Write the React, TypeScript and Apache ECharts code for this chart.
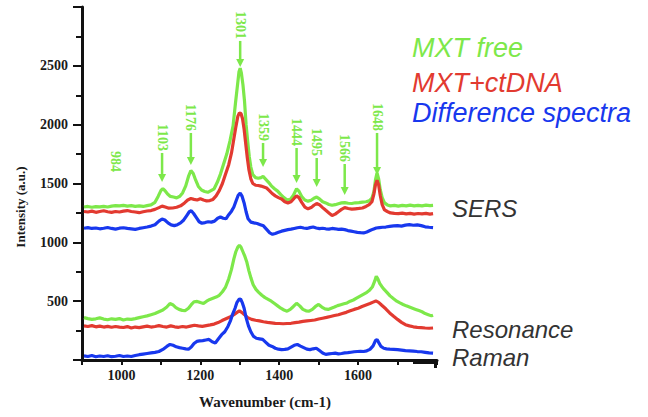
import React, { useEffect, useRef } from "react";
import * as echarts from "echarts";

const GREEN = "#7de84a";
const RED = "#e23a30";
const BLUE = "#1838ee";

// SERS spectra (wavenumber, intensity)
const sersFree: number[][] = [
  [905, 1300], [915, 1305], [925, 1298], [935, 1304], [945, 1302], [955, 1306], [965, 1300], [975, 1308],
  [985, 1312], [995, 1310], [1005, 1314], [1015, 1308], [1025, 1312], [1035, 1306], [1045, 1310], [1055, 1305],
  [1065, 1312], [1075, 1318], [1085, 1340], [1093, 1390], [1100, 1440], [1105, 1455], [1110, 1440], [1117, 1410],
  [1124, 1390], [1132, 1385], [1140, 1378], [1148, 1392], [1155, 1420], [1163, 1480], [1170, 1560], [1176, 1610],
  [1182, 1585], [1188, 1530], [1195, 1475], [1203, 1445], [1211, 1432], [1219, 1425], [1227, 1440], [1235, 1455],
  [1243, 1510], [1251, 1580], [1259, 1665], [1267, 1750], [1275, 1860], [1283, 1990], [1289, 2180], [1294, 2330],
  [1298, 2450], [1301, 2480], [1304, 2440], [1308, 2340], [1312, 2200], [1316, 2000], [1320, 1860], [1324, 1730],
  [1328, 1640], [1333, 1575], [1340, 1550], [1347, 1545], [1354, 1550], [1359, 1560], [1366, 1535], [1373, 1510],
  [1380, 1480], [1388, 1455], [1396, 1435], [1404, 1405], [1412, 1380], [1420, 1360], [1428, 1365], [1436, 1400],
  [1444, 1455], [1450, 1435], [1457, 1390], [1465, 1360], [1473, 1350], [1481, 1358], [1488, 1375], [1495, 1385],
  [1502, 1370], [1510, 1345], [1518, 1335], [1526, 1322], [1534, 1315], [1542, 1320], [1550, 1328], [1558, 1335],
  [1566, 1338], [1575, 1332], [1584, 1330], [1593, 1336], [1602, 1338], [1611, 1342], [1620, 1345], [1628, 1352],
  [1635, 1375], [1640, 1430], [1644, 1530], [1648, 1590], [1652, 1540], [1656, 1450], [1661, 1380], [1667, 1335],
  [1674, 1318], [1682, 1310], [1692, 1314], [1702, 1308], [1712, 1314], [1722, 1310], [1732, 1316], [1742, 1310],
  [1752, 1314], [1762, 1310], [1772, 1316], [1782, 1312], [1790, 1314],
];

const sersDna: number[][] = [
  [905, 1262], [915, 1258], [925, 1265], [935, 1255], [945, 1262], [955, 1268], [965, 1260], [975, 1255],
  [985, 1262], [995, 1258], [1005, 1265], [1015, 1270], [1025, 1262], [1035, 1258], [1045, 1252], [1055, 1260],
  [1065, 1266], [1075, 1270], [1085, 1280], [1095, 1295], [1103, 1308], [1111, 1300], [1120, 1290], [1130, 1292],
  [1140, 1298], [1150, 1310], [1160, 1335], [1168, 1360], [1176, 1372], [1184, 1365], [1192, 1360], [1200, 1370],
  [1208, 1360], [1216, 1352], [1224, 1355], [1232, 1365], [1240, 1395], [1248, 1440], [1256, 1500], [1264, 1580],
  [1272, 1660], [1279, 1760], [1285, 1880], [1290, 1980], [1295, 2070], [1299, 2100], [1303, 2095], [1307, 2050],
  [1311, 1960], [1315, 1840], [1319, 1720], [1323, 1620], [1328, 1540], [1333, 1500], [1340, 1485], [1347, 1483],
  [1354, 1478], [1361, 1470], [1368, 1462], [1375, 1440], [1382, 1415], [1390, 1395], [1398, 1380], [1406, 1368],
  [1414, 1345], [1422, 1335], [1430, 1345], [1438, 1375], [1444, 1395], [1450, 1380], [1457, 1340], [1465, 1300],
  [1473, 1285], [1481, 1295], [1488, 1315], [1495, 1330], [1502, 1320], [1510, 1295], [1518, 1272], [1526, 1250],
  [1534, 1228], [1542, 1240], [1550, 1260], [1558, 1280], [1566, 1295], [1575, 1288], [1584, 1282], [1593, 1285],
  [1602, 1288], [1611, 1292], [1620, 1305], [1628, 1320], [1635, 1345], [1640, 1410], [1644, 1490], [1648, 1528],
  [1652, 1490], [1656, 1400], [1661, 1320], [1667, 1275], [1674, 1262], [1682, 1250], [1692, 1246], [1702, 1244],
  [1712, 1248], [1722, 1242], [1732, 1246], [1742, 1240], [1752, 1245], [1762, 1242], [1772, 1246], [1782, 1240],
  [1790, 1244],
];

const sersDiff: number[][] = [
  [905, 1120], [915, 1125], [925, 1118], [935, 1122], [945, 1115], [955, 1120], [965, 1126], [975, 1118],
  [985, 1112], [995, 1120], [1005, 1124], [1015, 1118], [1025, 1114], [1035, 1110], [1045, 1118], [1055, 1124],
  [1065, 1130], [1075, 1138], [1085, 1150], [1095, 1180], [1103, 1198], [1110, 1190], [1118, 1165], [1126, 1148],
  [1134, 1142], [1142, 1150], [1150, 1165], [1158, 1190], [1166, 1230], [1172, 1260], [1177, 1268], [1183, 1245],
  [1190, 1210], [1197, 1175], [1204, 1162], [1212, 1168], [1220, 1175], [1228, 1172], [1236, 1180], [1244, 1205],
  [1251, 1215], [1258, 1205], [1265, 1200], [1272, 1235], [1279, 1265], [1285, 1300], [1291, 1355], [1296, 1400],
  [1301, 1418], [1306, 1390], [1311, 1335], [1316, 1260], [1321, 1200], [1328, 1172], [1336, 1165], [1344, 1160],
  [1352, 1150], [1360, 1140], [1368, 1110], [1376, 1080], [1383, 1068], [1390, 1075], [1398, 1085], [1406, 1095],
  [1414, 1102], [1422, 1108], [1430, 1112], [1438, 1118], [1446, 1124], [1454, 1128], [1462, 1122], [1470, 1118],
  [1478, 1125], [1486, 1130], [1494, 1122], [1502, 1116], [1510, 1120], [1518, 1115], [1526, 1112], [1534, 1118],
  [1542, 1115], [1550, 1110], [1558, 1112], [1566, 1108], [1574, 1100], [1582, 1095], [1590, 1090], [1598, 1085],
  [1606, 1082], [1614, 1080], [1622, 1088], [1630, 1100], [1638, 1112], [1646, 1122], [1654, 1125], [1662, 1128],
  [1670, 1130], [1680, 1135], [1690, 1140], [1700, 1142], [1710, 1138], [1720, 1146], [1730, 1150], [1740, 1145],
  [1750, 1148], [1760, 1142], [1770, 1132], [1780, 1128], [1790, 1125],
];

// Resonance Raman spectra
const resFree: number[][] = [
  [905, 360], [915, 352], [925, 345], [935, 350], [945, 358], [955, 348], [965, 342], [975, 350],
  [985, 345], [995, 352], [1005, 340], [1015, 348], [1025, 345], [1035, 352], [1045, 360], [1055, 368],
  [1065, 375], [1075, 385], [1085, 395], [1095, 410], [1105, 425], [1115, 450], [1123, 480], [1130, 470],
  [1138, 445], [1146, 430], [1154, 422], [1162, 420], [1170, 440], [1177, 470], [1184, 495], [1192, 498],
  [1200, 488], [1208, 480], [1216, 500], [1224, 515], [1232, 525], [1240, 535], [1248, 550], [1256, 580],
  [1264, 620], [1272, 690], [1279, 770], [1285, 860], [1290, 920], [1295, 960], [1299, 975], [1303, 960],
  [1308, 920], [1313, 880], [1318, 830], [1323, 760], [1328, 700], [1334, 640], [1341, 600], [1348, 575],
  [1356, 550], [1364, 530], [1372, 515], [1380, 500], [1388, 480], [1396, 460], [1404, 440], [1412, 425],
  [1420, 415], [1428, 430], [1436, 455], [1444, 482], [1452, 460], [1460, 430], [1468, 418], [1476, 415],
  [1484, 430], [1492, 455], [1500, 472], [1508, 450], [1516, 435], [1524, 430], [1532, 440], [1540, 450],
  [1548, 462], [1556, 470], [1564, 478], [1572, 485], [1580, 500], [1588, 510], [1596, 525], [1604, 540],
  [1612, 555], [1620, 570], [1628, 590], [1636, 620], [1642, 670], [1646, 712], [1650, 690], [1655, 650],
  [1660, 625], [1666, 600], [1673, 575], [1681, 545], [1690, 520], [1698, 500], [1706, 485], [1714, 472],
  [1722, 460], [1730, 450], [1738, 440], [1746, 430], [1754, 420], [1762, 410], [1770, 395], [1778, 385],
  [1786, 375], [1790, 380],
];

const resDna: number[][] = [
  [905, 290], [915, 285], [925, 292], [935, 282], [945, 288], [955, 280], [965, 286], [975, 278],
  [985, 285], [995, 280], [1005, 276], [1015, 284], [1025, 272], [1035, 280], [1045, 275], [1055, 282],
  [1065, 288], [1075, 280], [1085, 285], [1095, 292], [1105, 285], [1115, 280], [1125, 290], [1135, 282],
  [1145, 278], [1155, 285], [1165, 280], [1175, 288], [1185, 295], [1195, 290], [1205, 286], [1215, 292],
  [1225, 298], [1235, 305], [1245, 318], [1255, 335], [1265, 350], [1275, 365], [1285, 385], [1293, 405],
  [1299, 418], [1305, 405], [1312, 385], [1320, 360], [1330, 345], [1340, 338], [1350, 332], [1360, 325],
  [1370, 320], [1380, 316], [1390, 312], [1400, 310], [1410, 308], [1420, 310], [1430, 312], [1440, 318],
  [1450, 322], [1460, 328], [1470, 332], [1480, 336], [1490, 340], [1500, 348], [1510, 355], [1520, 362],
  [1530, 370], [1540, 378], [1550, 385], [1560, 395], [1570, 405], [1580, 418], [1590, 430], [1600, 440],
  [1610, 455], [1620, 468], [1630, 480], [1638, 492], [1645, 502], [1652, 490], [1660, 465], [1670, 435],
  [1680, 400], [1690, 372], [1700, 345], [1710, 320], [1720, 300], [1730, 290], [1740, 282], [1750, 278],
  [1760, 275], [1770, 272], [1780, 270], [1790, 272],
];

const resDiff: number[][] = [
  [905, 35], [915, 30], [925, 38], [935, 28], [945, 34], [955, 30], [965, 36], [975, 28],
  [985, 32], [995, 38], [1005, 30], [1015, 34], [1025, 30], [1035, 38], [1045, 45], [1055, 50],
  [1065, 55], [1075, 60], [1085, 65], [1095, 72], [1105, 90], [1115, 115], [1123, 132], [1131, 125],
  [1139, 112], [1147, 105], [1155, 100], [1163, 95], [1170, 92], [1177, 110], [1184, 140], [1191, 158],
  [1198, 162], [1206, 165], [1214, 170], [1222, 175], [1230, 155], [1238, 145], [1246, 180], [1254, 215],
  [1262, 240], [1270, 285], [1276, 330], [1282, 390], [1288, 440], [1293, 490], [1298, 515], [1302, 518],
  [1306, 490], [1311, 440], [1316, 360], [1322, 290], [1328, 240], [1335, 200], [1342, 185], [1350, 180],
  [1358, 175], [1366, 150], [1374, 125], [1382, 115], [1390, 100], [1398, 92], [1406, 88], [1414, 90],
  [1422, 95], [1430, 110], [1438, 125], [1446, 132], [1454, 118], [1462, 105], [1470, 92], [1478, 88],
  [1486, 95], [1494, 100], [1502, 80], [1510, 60], [1518, 48], [1526, 52], [1534, 55], [1542, 58],
  [1550, 52], [1558, 55], [1566, 60], [1574, 62], [1582, 66], [1590, 70], [1598, 72], [1606, 74],
  [1614, 72], [1622, 78], [1630, 90], [1638, 120], [1644, 165], [1648, 175], [1652, 150], [1658, 115],
  [1665, 100], [1672, 95], [1680, 92], [1690, 90], [1700, 88], [1710, 84], [1720, 80], [1730, 78],
  [1740, 75], [1750, 72], [1760, 70], [1770, 65], [1780, 60], [1790, 58],
];

// Peak annotations
const peakLabels = ["984", "1103", "1176", "1301", "1359", "1444", "1495", "1566", "1648"];
const peakX = [984, 1103, 1176, 1301, 1359, 1444, 1495, 1566, 1648];
const peakTip = [1589, 1513, 1657, 2490, 1640, 1504, 1470, 1402, 1572];
const peakTextBase = [1589, 1768, 1938, 2720, 1853, 1810, 1725, 1674, 1938];

const seriesNames = ["MXT free", "MXT+ctDNA", "Difference spectra"];
const groupLabels = ["SERS", "Resonance", "Raman"];

export default function App() {
  const ref = useRef<HTMLDivElement>(null);
  useEffect(() => {
    if (!ref.current) return;
    const chart = echarts.init(ref.current, null, { renderer: "svg" });
    const serif = "'Liberation Serif', 'DejaVu Serif', serif";
    const sans = "'Liberation Sans', Arial, sans-serif";
    const lineSeries = (name: string, data: number[][], color: string, z: number) => ({
      name,
      type: "line",
      data,
      showSymbol: false,
      symbol: "none",
      z,
      lineStyle: { color, width: 3.2 },
      itemStyle: { color },
    });
    const option: any = {
      animation: false,
      grid: { left: 82, right: 211, top: 7, bottom: 57, containLabel: false },
      xAxis: {
        type: "value",
        min: 900,
        max: 1800,
        interval: 100,
        axisLine: { show: true, lineStyle: { color: "#111", width: 3 } },
        axisTick: { show: true, length: 5, lineStyle: { color: "#111", width: 2 } },
        axisLabel: {
          margin: 8,
          color: "#1a1a1a",
          fontFamily: serif,
          fontWeight: "bold",
          fontSize: 14,
          formatter: (v: number) => (v % 200 === 0 && v !== 1800 ? String(v) : ""),
        },
        splitLine: { show: false },
      },
      yAxis: {
        type: "value",
        min: 0,
        max: 3000,
        interval: 500,
        axisLine: { show: true, lineStyle: { color: "#111", width: 3 } },
        axisTick: { show: true, length: 9, lineStyle: { color: "#111", width: 2 } },
        minorTick: { show: true, splitNumber: 2, length: 6, lineStyle: { color: "#111", width: 2 } },
        axisLabel: {
          margin: 14,
          color: "#1a1a1a",
          fontFamily: serif,
          fontWeight: "bold",
          fontSize: 14,
          formatter: (v: number) => (v === 0 || v === 3000 ? "" : String(v)),
        },
        splitLine: { show: false },
      },
      series: [
        lineSeries(seriesNames[0], sersFree, GREEN, 2),
        lineSeries(seriesNames[1], sersDna, RED, 3),
        lineSeries(seriesNames[2], sersDiff, BLUE, 4),
        lineSeries(seriesNames[0] + " (RR)", resFree, GREEN, 2),
        lineSeries(seriesNames[1] + " (RR)", resDna, RED, 3),
        lineSeries(seriesNames[2] + " (RR)", resDiff, BLUE, 4),
        {
          type: "custom",
          name: "peaks",
          z: 5,
          silent: true,
          clip: false,
          data: peakX.map((x, i) => [x, peakTip[i], peakTextBase[i]]),
          renderItem: (params: any, api: any) => {
            const i = params.dataIndex;
            const tip = api.coord([api.value(0), api.value(1)]);
            const base = api.coord([api.value(0), api.value(2)]);
            const children: any[] = [
              {
                type: "text",
                x: base[0],
                y: base[1] - 1,
                rotation: -Math.PI / 2,
                style: {
                  text: peakLabels[i],
                  fill: GREEN,
                  fontFamily: serif,
                  fontWeight: "bold",
                  fontSize: 14,
                  align: "right",
                  verticalAlign: "middle",
                },
              },
            ];
            if (tip[1] - base[1] > 6) {
              children.push({
                type: "line",
                shape: { x1: base[0], y1: base[1] + 1, x2: tip[0], y2: tip[1] - 5 },
                style: { stroke: GREEN, lineWidth: 2.5 },
              });
              children.push({
                type: "polygon",
                shape: {
                  points: [
                    [tip[0] - 4, tip[1] - 8],
                    [tip[0] + 4, tip[1] - 8],
                    [tip[0], tip[1]],
                  ],
                },
                style: { fill: GREEN },
              });
            }
            return { type: "group", children };
          },
        },
      ],
      graphic: [
        {
          type: "text",
          x: 20,
          y: 207,
          rotation: Math.PI / 2,
          style: {
            text: "Intensity (a.u.)",
            fill: "#1a1a1a",
            fontFamily: serif,
            fontWeight: "bold",
            fontSize: 13,
            align: "center",
            verticalAlign: "middle",
          },
        },
        {
          type: "text",
          x: 265,
          y: 402,
          style: {
            text: "Wavenumber (cm-1)",
            fill: "#1a1a1a",
            fontFamily: serif,
            fontWeight: "bold",
            fontSize: 15,
            align: "center",
            verticalAlign: "middle",
          },
        },
        ...[GREEN, RED, BLUE].map((c, i) => ({
          type: "text",
          x: 412,
          y: [48, 83, 113][i],
          style: {
            text: seriesNames[i],
            fill: c,
            fontFamily: sans,
            fontStyle: "italic",
            fontSize: 27,
            align: "left",
            verticalAlign: "middle",
          },
        })),
        ...groupLabels.map((t, i) => ({
          type: "text",
          x: 452,
          y: [208, 329, 357][i],
          style: {
            text: t,
            fill: "#333",
            fontFamily: sans,
            fontStyle: "italic",
            fontSize: 24,
            align: "left",
            verticalAlign: "middle",
          },
        })),
        { type: "rect", shape: { x: 413, y: 359, width: 24, height: 5 }, style: { fill: "#111" } },
        { type: "rect", shape: { x: 434, y: 359, width: 3, height: 9 }, style: { fill: "#111" } },
      ],
    };
    chart.setOption(option);
    return () => chart.dispose();
  }, []);
  return (
    <div
      ref={ref}
      style={{ position: "fixed", left: 0, top: 0, width: 648, height: 417, background: "#fff" }}
    />
  );
}
